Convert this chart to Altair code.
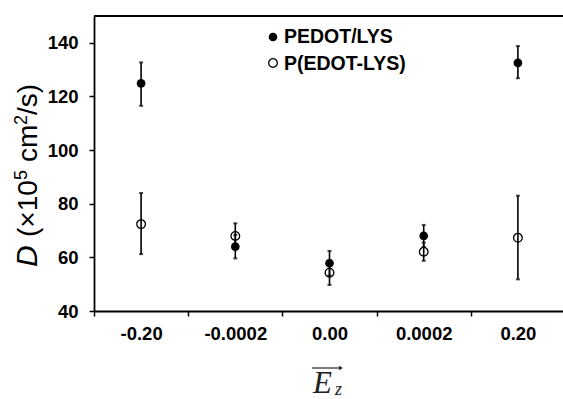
import altair as alt
import pandas as pd

categories = ["-0.20", "-0.0002", "0.00", "0.0002", "0.20"]
series_names = ["PEDOT/LYS", "P(EDOT-LYS)"]

pedot_mean = [124.9, 64.0, 57.8, 68.0, 132.5]
pedot_lo = [116.5, 59.6, 53.2, 63.9, 126.8]
pedot_hi = [132.7, 68.4, 62.4, 72.1, 138.8]

pedotlys_mean = [72.4, 68.0, 54.3, 62.1, 67.3]
pedotlys_lo = [61.2, 63.3, 49.7, 58.7, 51.8]
pedotlys_hi = [84.0, 72.7, 58.9, 65.5, 83.0]

y_ticks = [40, 50, 60, 70, 80, 90, 100, 110, 120, 130, 140, 150]

rows = []
for i, c in enumerate(categories):
    rows.append(dict(series=series_names[0], cat=c, mean=pedot_mean[i], lo=pedot_lo[i], hi=pedot_hi[i]))
for i, c in enumerate(categories):
    rows.append(dict(series=series_names[1], cat=c, mean=pedotlys_mean[i], lo=pedotlys_lo[i], hi=pedotlys_hi[i]))
df = pd.DataFrame(rows)

W, H = 469, 295
FONT = "Liberation Sans"

xenc = alt.X("cat:N", sort=categories,
             scale=alt.Scale(paddingInner=0, paddingOuter=0, range=[0, 471]),
             axis=alt.Axis(title=None, labelAngle=0, tickBand="extent", labelPadding=8,
                           labelFont=FONT, labelFontSize=18.5, labelFontWeight="bold",
                           labelColor="black", domainColor="black", domainWidth=1.8,
                           tickColor="black", tickWidth=1.5, tickSize=5))
yscale = alt.Scale(domain=[40, 150], nice=False, zero=False)
yaxis = alt.Axis(title=None, values=y_ticks, grid=False,
                 labelExpr="datum.value % 20 == 0 && datum.value < 150 ? datum.label : ''",
                 labelFont=FONT, labelFontSize=18.5, labelFontWeight="bold", labelColor="black",
                 labelPadding=11, domainColor="black", domainWidth=1.8,
                 tickColor="black", tickWidth=1.5, tickSize=5)

base = alt.Chart(df)

err = base.mark_rule(color="black", strokeWidth=1.6).encode(
    x=xenc, y=alt.Y("lo:Q", scale=yscale, axis=yaxis), y2="hi:Q")
cap_lo = base.mark_tick(color="black", size=4, thickness=2).encode(x=xenc, y=alt.Y("lo:Q", scale=yscale))
cap_hi = base.mark_tick(color="black", size=4, thickness=2).encode(x=xenc, y=alt.Y("hi:Q", scale=yscale))

open_pts = base.transform_filter(alt.datum.series == series_names[1]).mark_point(
    shape="circle", filled=False, color="black", strokeWidth=1.3, size=75, opacity=1
).encode(x=xenc, y=alt.Y("mean:Q", scale=yscale))
filled_pts = base.transform_filter(alt.datum.series == series_names[0]).mark_point(
    shape="circle", filled=True, color="black", size=75, opacity=1
).encode(x=xenc, y=alt.Y("mean:Q", scale=yscale))

top_line = alt.Chart(pd.DataFrame({"a": [0]})).mark_rule(color="black", strokeWidth=2).encode(
    x=alt.value(0), x2=alt.value(471), y=alt.value(0))

leg = pd.DataFrame({"name": series_names})
leg_f_pt = alt.Chart(leg.iloc[[0]]).mark_point(shape="circle", filled=True, color="black", size=75, opacity=1).encode(
    x=alt.value(179), y=alt.value(21))
leg_o_pt = alt.Chart(leg.iloc[[1]]).mark_point(shape="circle", filled=False, color="black", strokeWidth=1.3, size=75, opacity=1).encode(
    x=alt.value(179), y=alt.value(47))
leg_f_tx = alt.Chart(leg.iloc[[0]]).mark_text(align="left", baseline="middle", font=FONT, fontSize=19.5,
                                              fontWeight="bold", color="black").encode(
    x=alt.value(190), y=alt.value(21), text="name:N")
leg_o_tx = alt.Chart(leg.iloc[[1]]).mark_text(align="left", baseline="middle", font=FONT, fontSize=19.5,
                                              fontWeight="bold", color="black").encode(
    x=alt.value(190), y=alt.value(48), text="name:N")

# y-axis title pieces: "D (×10^5 cm^2/s)"
title_pieces = ["D", "(\u00d710", "5", "cm", "2", "/s)"]
title_styles = [
    dict(size=30, italic=True, x=-57, y=251),
    dict(size=28, italic=False, x=-57, y=221),
    dict(size=18, italic=False, x=-67, y=164),
    dict(size=28, italic=False, x=-57, y=146),
    dict(size=18, italic=False, x=-67, y=109),
    dict(size=28, italic=False, x=-57, y=99),
]
ytitle_layers = []
for txt, st in zip(title_pieces, title_styles):
    ytitle_layers.append(
        alt.Chart(pd.DataFrame({"t": [txt]})).mark_text(
            align="left", baseline="alphabetic", angle=270, font=FONT, fontSize=st["size"],
            fontStyle="italic" if st["italic"] else "normal", color="black"
        ).encode(x=alt.value(st["x"]), y=alt.value(st["y"]), text="t:N")
    )

xlab = pd.DataFrame({"e": ["E"], "z": ["z"]})
xtitle_e = alt.Chart(xlab).mark_text(align="left", baseline="alphabetic", font="Liberation Serif",
                                     fontSize=31, fontStyle="italic", color="#222").encode(
    x=alt.value(219), y=alt.value(377), text="e:N")
xtitle_z = alt.Chart(xlab).mark_text(align="left", baseline="alphabetic", font="Liberation Serif",
                                     fontSize=18, fontStyle="italic", color="#222").encode(
    x=alt.value(241), y=alt.value(379), text="z:N")
arrow_line = alt.Chart(xlab).mark_rule(color="#222", strokeWidth=1.2).encode(
    x=alt.value(218), x2=alt.value(247), y=alt.value(352))
arrow_head = alt.Chart(xlab).mark_point(shape="triangle-right", filled=True, color="#222", size=20, opacity=1).encode(
    x=alt.value(247), y=alt.value(352))

chart = alt.layer(
    err, cap_lo, cap_hi, open_pts, filled_pts, top_line,
    leg_f_pt, leg_o_pt, leg_f_tx, leg_o_tx,
    *ytitle_layers, xtitle_e, xtitle_z, arrow_line, arrow_head
).properties(
    width=W, height=H,
    autosize=alt.AutoSizeParams(type="none"),
    padding={"left": 94, "top": 16, "right": 0, "bottom": 88}
).configure_view(stroke=None).configure(background="white")

chart.save("out.html", embed_options={"renderer": "svg", "actions": False})
